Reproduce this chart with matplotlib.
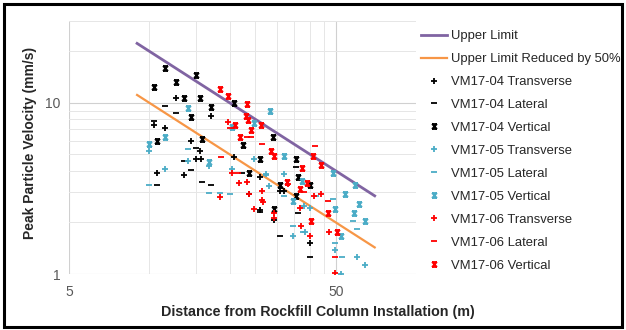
import matplotlib
matplotlib.use("Agg")
import matplotlib.pyplot as plt
from matplotlib.path import Path
from matplotlib.patches import Rectangle
from matplotlib.ticker import FixedLocator, NullFormatter

plt.rcParams['font.family'] = ['Liberation Sans', 'DejaVu Sans']

# Limit lines
limit_x = [9, 70]
upper_limit = [22.2, 2.86]
upper_half = [11.1, 1.43]

# VM17-04
v04_trans_x = [12.6, 17.0, 10.4, 11.5, 14.3, 15.5, 15.0, 15.6, 10.7, 13.5, 20.7, 23.7, 26.0, 30.8, 32.0, 29.3, 40.0, 26.0]
v04_trans_y = [10.6, 8.35, 7.4, 7.1, 5.95, 5.2, 4.7, 4.7, 3.9, 3.8, 4.85, 2.92, 3.7, 3.05, 3.05, 2.08, 1.51, 2.38]
v04_lat_x = [11.5, 12.6, 10.4, 10.7, 13.5, 14.3, 15.0, 15.7, 17.0, 22.2, 31.0, 40.0, 35.5, 26.0, 36.0]
v04_lat_y = [9.6, 8.7, 7.8, 3.3, 4.58, 4.05, 5.43, 3.44, 3.31, 3.87, 1.66, 1.26, 4.2, 2.3, 2.27]
v04_vert_x = [11.5, 10.4, 12.6, 15.0, 13.5, 15.5, 17.0, 14.3, 10.7, 15.7, 20.7, 22.4, 29.2, 25.9, 35.5, 36.0, 40.0, 31.0, 23.7, 29.3, 35.6]
v04_vert_y = [15.9, 12.4, 13.3, 14.6, 10.7, 10.6, 9.5, 8.2, 5.95, 6.1, 9.9, 5.7, 6.3, 4.7, 4.7, 3.7, 3.3, 3.3, 3.9, 2.4, 2.85]

# VM17-05
v05_trans_x = [10.0, 11.5, 14.0, 16.7, 20.5, 24.7, 27.5, 32.0, 38.0, 40.2, 34.6, 38.3, 49.9, 52.5, 60.0, 64.6, 28.2]
v05_trans_y = [5.2, 4.1, 4.54, 4.28, 4.1, 4.7, 3.82, 3.82, 2.49, 2.43, 1.66, 1.77, 1.38, 1.0, 1.26, 1.13, 3.26]
v05_lat_x = [10.0, 14.0, 16.7, 18.4, 20.0, 32.0, 34.6, 37.8, 48.7, 49.9, 52.8, 58.1, 60.0, 42.3, 27.5]
v05_lat_y = [3.31, 5.36, 2.98, 2.98, 2.94, 2.85, 1.9, 1.77, 2.75, 1.51, 1.26, 2.03, 1.82, 2.85, 3.79]
v05_vert_x = [14.0, 11.5, 10.0, 16.7, 28.3, 24.7, 32.0, 48.7, 54.4, 59.0, 58.5, 61.0, 64.6, 49.9, 52.5, 37.4, 34.6, 20.5]
v05_vert_y = [9.3, 6.3, 5.74, 4.48, 8.9, 7.6, 4.9, 3.9, 2.94, 3.3, 2.27, 2.55, 2.03, 2.4, 1.66, 3.49, 2.66, 7.2]

# VM17-06
v06_trans_x = [19.7, 20.5, 21.7, 23.2, 23.7, 26.4, 26.5, 26.7, 24.7, 29.3, 29.3, 33.0, 41.4, 44.2, 36.6, 37.0, 40.0, 47.0, 49.9, 18.4]
v06_trans_y = [7.7, 3.91, 3.41, 3.44, 2.93, 3.04, 2.72, 2.64, 2.40, 2.27, 2.13, 3.34, 2.85, 2.92, 2.43, 1.90, 1.66, 1.77, 1.01, 2.81]
v06_lat_x = [20.0, 24.0, 26.4, 18.6, 41.7, 21.5, 46.8, 49.9, 37.9, 23.2]
v06_lat_y = [7.1, 6.3, 5.71, 4.81, 5.61, 3.87, 2.66, 1.26, 3.01, 6.28]
v06_vert_x = [18.4, 19.7, 23.2, 23.0, 23.4, 21.0, 24.0, 26.2, 21.9, 28.6, 29.3, 41.1, 44.2, 37.4, 32.7, 36.6, 38.9, 46.8, 50.6, 40.3]
v06_vert_y = [12.0, 11.0, 9.8, 8.35, 7.9, 7.4, 6.97, 7.4, 6.3, 5.24, 4.9, 4.9, 4.34, 4.18, 3.44, 3.15, 3.41, 2.27, 1.77, 2.05]

BLACK = '#000000'
CYAN = '#4bacc6'
RED = '#ff0000'

# hourglass-like "x" marker (Excel style)
xmark = Path([(-1, -1), (1, 1), (-1, 1), (1, -1), (-1, 1), (1, 1), (-1, -1), (1, -1)],
             [Path.MOVETO, Path.LINETO, Path.MOVETO, Path.LINETO,
              Path.MOVETO, Path.LINETO, Path.MOVETO, Path.LINETO])

fig = plt.figure(figsize=(6.26, 3.30), dpi=100)
ax = fig.add_axes([69 / 626, (330 - 274) / 330, (416 - 69) / 626, (274 - 21) / 330])

ax.set_xscale('log')
ax.set_yscale('log')
ax.set_xlim(5, 100)
ax.set_ylim(1, 30)

ax.plot(limit_x, upper_limit, color='#8064a2', lw=2, label='Upper Limit', zorder=3)
ax.plot(limit_x, upper_half, color='#f79646', lw=1.6, label='Upper Limit Reduced by 50%', zorder=3)

series = [
    (v04_trans_x, v04_trans_y, '+', BLACK, 'VM17-04 Transverse'),
    (v04_lat_x, v04_lat_y, '_', BLACK, 'VM17-04 Lateral'),
    (v04_vert_x, v04_vert_y, xmark, BLACK, 'VM17-04 Vertical'),
    (v05_trans_x, v05_trans_y, '+', CYAN, 'VM17-05 Transverse'),
    (v05_lat_x, v05_lat_y, '_', CYAN, 'VM17-05 Lateral'),
    (v05_vert_x, v05_vert_y, xmark, CYAN, 'VM17-05 Vertical'),
    (v06_trans_x, v06_trans_y, '+', RED, 'VM17-06 Transverse'),
    (v06_lat_x, v06_lat_y, '_', RED, 'VM17-06 Lateral'),
    (v06_vert_x, v06_vert_y, xmark, RED, 'VM17-06 Vertical'),
]
for xs, ys, m, c, lab in series:
    ms = 5 if m == '+' or m == '_' else 3.6
    ax.plot(xs, ys, linestyle='none', marker=m, color=c, ms=ms, mew=1.3, label=lab, zorder=4)

# ticks & grid
ax.xaxis.set_major_locator(FixedLocator([5, 50]))
ax.xaxis.set_minor_locator(FixedLocator([10, 15, 20, 25, 30, 35, 40, 45, 100]))
ax.yaxis.set_major_locator(FixedLocator([1, 10]))
ax.yaxis.set_minor_locator(FixedLocator([2, 3, 4, 5, 6, 7, 8, 9, 20, 30]))
ax.set_xticklabels(['5', '50'])
ax.set_yticklabels(['1', '10'])
ax.xaxis.set_minor_formatter(NullFormatter())
ax.yaxis.set_minor_formatter(NullFormatter())
ax.tick_params(which='both', length=0, labelsize=10, colors='#595959')
ax.tick_params(axis='y', pad=6)
ax.tick_params(axis='x', pad=8)
ax.grid(True, which='major', color='#d0d0d0', lw=0.8)
ax.grid(True, which='minor', color='#e6e6e6', lw=0.7)
ax.set_axisbelow(True)
for s in ax.spines.values():
    s.set_visible(False)

fig.text(318 / 626, (330 - 312) / 330, 'Distance from Rockfill Column Installation (m)',
         ha='center', va='center', fontsize=10.3, fontweight='bold', color='#262626')
fig.text(30 / 626, (330 - 143) / 330, 'Peak Particle Velocity (mm/s)', rotation=90,
         ha='center', va='center', fontsize=10, fontweight='bold', color='#262626')

leg = fig.legend(loc='upper left', bbox_to_anchor=(421 / 626, (330 - 30) / 330), frameon=False,
                 fontsize=9.4, handlelength=2.0, handletextpad=0.3, labelspacing=0.83,
                 borderaxespad=0, borderpad=0)
for t in leg.get_texts():
    t.set_color('#262626')

fig.add_artist(Rectangle((3.5 / 626, 3.5 / 330), 618.5 / 626, 323 / 330, transform=fig.transFigure,
                         fill=False, edgecolor='black', lw=2.2))

fig.savefig('out.png', dpi=100)
